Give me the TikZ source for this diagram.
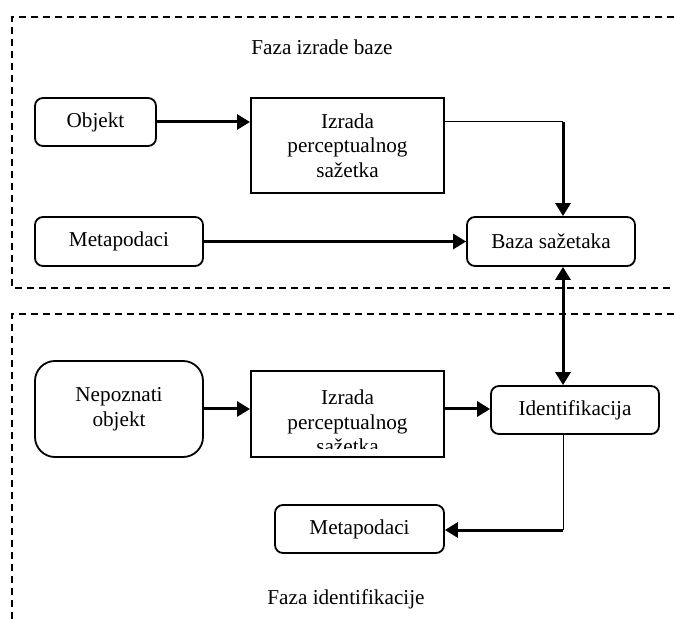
\documentclass[tikz,border=0pt]{standalone}
\usepackage{fontspec}
\setmainfont{Liberation Serif}
\usetikzlibrary{arrows.meta,calc}

\begin{document}
\begin{tikzpicture}[x=0.5pt,y=-0.5pt]
\tikzstyle{every node} = [font=\fontsize{10.6}{12.3}\selectfont, align=center, inner sep=0pt];
\tikzstyle{term} = [draw, line width=0.9pt, rounded corners=4pt];
\tikzstyle{proc} = [draw, line width=1pt];
\tikzstyle{flow} = [line width=1.5pt, -{Triangle[length=6.5pt,width=7.5pt]}];
\tikzstyle{tap} = [line width=0.5pt];
\tikzstyle{phase} = [dash pattern=on 3.5pt off 2.5pt, line width=0.9pt];
\useasboundingbox (0,0) rectangle (674,619);
% phase frames
\draw[phase] (674,17) -- (12,17) -- (12,288) -- (674,288);
\draw[phase] (674,314) -- (12,314) -- (12,619);
\node (lab1) at (322,47) {Faza izrade baze};
\node (lab2) at (346,599) {Faza identifikacije};
% upper phase
\node[term, minimum width=60.5pt, minimum height=24pt] (obj) at (95.5,122) {Objekt};
\node[proc, minimum width=96.5pt, minimum height=47.5pt] (iz1) at (347.5,145.5) {Izrada\\perceptualnog\\sažetka};
\node[term, minimum width=84pt, minimum height=24.5pt] (meta1) at (119,241.5) {Metapodaci};
\node[term, minimum width=84pt, minimum height=24.5pt] (baza) at (551,241.5) {Baza sažetaka};
% lower phase
\node[term, rounded corners=10pt, minimum width=84pt, minimum height=48pt] (nep) at (119,409) {Nepoznati\\objekt};
\node[proc, minimum width=96.5pt, minimum height=43pt] (iz2) at (347.5,414) {};
\begin{scope}
\clip (251,371) rectangle (444,449);
\node (iz2t) at (347.5,422) {Izrada\\perceptualnog\\sažetka};
\end{scope}
\node[term, minimum width=84pt, minimum height=24pt] (ident) at (575,410) {Identifikacija};
\node[term, minimum width=84.5pt, minimum height=24pt] (meta2) at (359.5,529) {Metapodaci};
% connectors
\coordinate (c1) at (563,122);
\coordinate (c2) at (563,530);
\draw[flow] (obj) -- (obj -| iz1.west);
\draw[tap] (iz1.east |- c1) -- (c1);
\draw[flow] (c1) -- (baza.north -| c1);
\draw[flow] (meta1) -- (baza);
\draw[flow, {Triangle[length=6.5pt,width=7.5pt]}-{Triangle[length=6.5pt,width=7.5pt]}] (baza.south -| c1) -- (ident.north -| c1);
\draw[flow] (nep) -- (nep -| iz2.west);
\draw[flow] (iz2.east |- nep) -- (nep -| ident.west);
\draw[tap] (ident.south -| c2) -- (c2);
\draw[flow] (c2) -- (c2 -| meta2.east);
\end{tikzpicture}
\end{document}
